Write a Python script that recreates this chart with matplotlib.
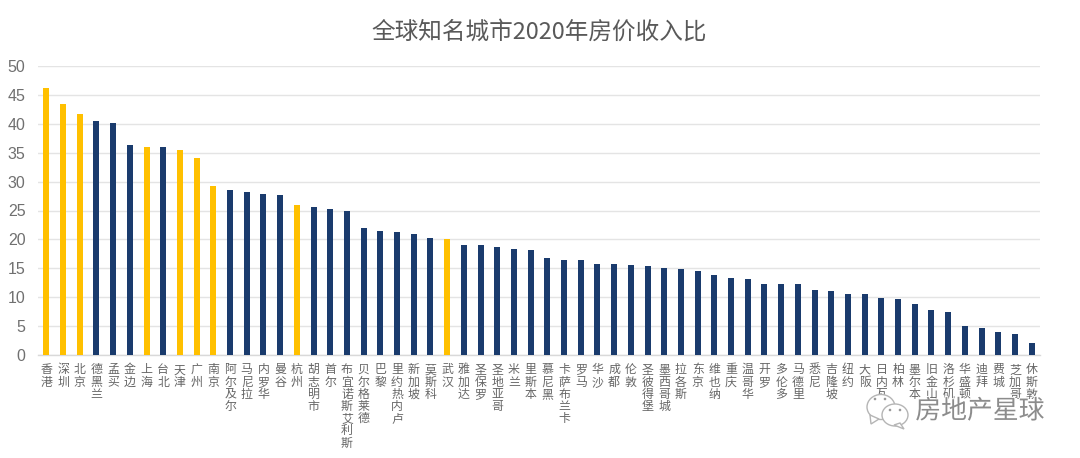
import matplotlib
matplotlib.use("Agg")
import matplotlib.pyplot as plt
import matplotlib.patheffects as pe
from matplotlib.patches import Ellipse, Polygon, Circle

plt.rcParams['font.family'] = ['Noto Sans CJK SC', 'DejaVu Sans']

TITLE = "全球知名城市2020年房价收入比"
WATERMARK = "房地产星球"
cities = ["香港","深圳","北京","德黑兰","孟买","金边","上海","台北","天津","广州",
          "南京","阿尔及尔","马尼拉","内罗华","曼谷","杭州","胡志明市","首尔","布宜诺斯艾利斯","贝尔格莱德",
          "巴黎","里约热内卢","新加坡","莫斯科","武汉","雅加达","圣保罗","圣地亚哥","米兰","里斯本",
          "慕尼黑","卡萨布兰卡","罗马","华沙","成都","伦敦","圣彼得堡","墨西哥城","拉各斯","东京",
          "维也纳","重庆","温哥华","开罗","多伦多","马德里","悉尼","吉隆坡","纽约","大阪",
          "日内瓦","柏林","墨尔本","旧金山","洛杉矶","华盛顿","迪拜","费城","芝加哥","休斯敦"]
ratios = [46.2,43.4,41.7,40.5,40.2,36.3,36.0,36.0,35.5,34.1,
          29.2,28.5,28.2,27.8,27.6,26.0,25.6,25.2,25.0,21.9,
          21.4,21.2,20.9,20.2,20.0,19.1,19.0,18.7,18.3,18.2,
          16.7,16.5,16.5,15.7,15.7,15.5,15.4,15.1,14.9,14.5,
          13.9,13.3,13.1,12.3,12.3,12.3,11.2,11.0,10.6,10.6,
          9.9,9.7,8.9,7.7,7.5,5.0,4.7,3.9,3.7,2.1]
highlighted = ["香港","深圳","北京","上海","天津","广州","南京","杭州","武汉"]
yticks = [0,5,10,15,20,25,30,35,40,45,50]

NAVY, GOLD, GREY = "#1A3B6D", "#FFC000", "#666666"
W, H = 1080, 458
fig = plt.figure(figsize=(W/100, H/100), dpi=100, facecolor="white")
ax = fig.add_axes([38/W, 1-355/H, (1040-38)/W, (355-66)/H])

x = list(range(len(cities)))
colors = [GOLD if c in highlighted else NAVY for c in cities]
ax.bar(x, ratios, width=0.36, color=colors, zorder=3)
ax.set_xlim(-0.5, len(cities)-0.5)
ax.set_ylim(0, 50)
ax.set_yticks(yticks)
ax.tick_params(axis='y', length=0, pad=9, labelsize=11.5, labelcolor="#707070")
for l in ax.get_yticklabels():
    l.set_family(['Liberation Sans'])
ax.grid(axis='y', color="#E4E4E4", lw=1, zorder=0)
ax.set_axisbelow(True)
for s in ['top','left','right']:
    ax.spines[s].set_visible(False)
ax.spines['bottom'].set_color("#D9D9D9")
ax.spines['bottom'].set_linewidth(1)
ax.set_xticks(x)
ax.set_xticklabels(["\n".join(c) for c in cities], fontsize=8.6, color=GREY,
                   linespacing=0.92, va='top', ha='center')
ax.tick_params(axis='x', length=0, pad=6)

fig.text(539.5/W, 1-32/H, TITLE, ha='center', va='center', fontsize=17, color="#595959")

# watermark
ov = fig.add_axes([0, 0, 1, 1], facecolor='none')
ov.set_xlim(0, W); ov.set_ylim(H, 0); ov.axis('off')
ov.add_patch(Ellipse((881, 407), 28, 25, fc='white', ec='#B5B5B5', lw=1, zorder=5))
ov.add_patch(Polygon([[870,415],[871,424],[879,419]], fc='white', ec='#B5B5B5', lw=1, zorder=5))
ov.add_patch(Ellipse((895, 415), 26, 22, fc='white', ec='#B5B5B5', lw=1, zorder=6))
ov.add_patch(Polygon([[900,423],[904,429],[894,425]], fc='white', ec='#B5B5B5', lw=1, zorder=6))
for cx, cy, z in [(875,399,7),(885,399,7),(890,410,7),(900,410,7)]:
    ov.add_patch(Circle((cx, cy), 1.3, fc='#999999', ec='none', zorder=z))
ov.text(980, 411, WATERMARK, ha='center', va='center', fontsize=18.6, color="#8C8C8C", zorder=8,
        path_effects=[pe.withStroke(linewidth=1.5, foreground='white')])

fig.savefig("out.png", dpi=100)
